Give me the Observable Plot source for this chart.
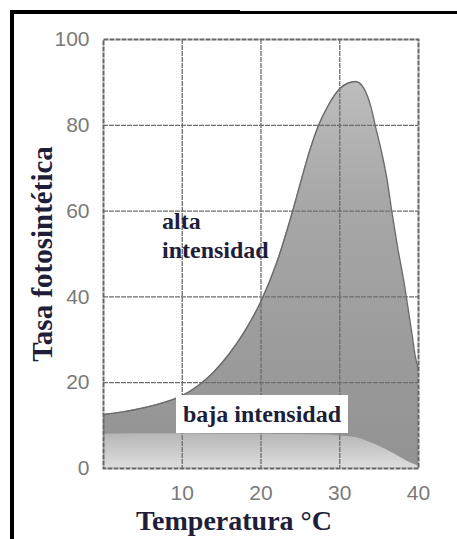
<!DOCTYPE html>
<html>
<head>
<meta charset="utf-8">
<script src="https://cdn.jsdelivr.net/npm/d3@7"></script>
<script src="https://cdn.jsdelivr.net/npm/@observablehq/plot@0.6"></script>
<style>
  html, body { margin: 0; padding: 0; background: #fff; }
  #wrap { position: relative; width: 457px; height: 539px; overflow: hidden; }
  #wrap svg { position: absolute; left: 0; top: 0; }
  .bl { position: absolute; background: #000; }
</style>
</head>
<body>
<div id="wrap">
  <div class="bl" style="left:10px;top:10px;width:4px;height:529px;"></div>
  <div class="bl" style="left:10px;top:10px;width:230px;height:4px;"></div>
  <div class="bl" style="left:240px;top:11px;width:217px;height:3px;"></div>
</div>
<script>
// Temperature (°C) and photosynthetic rate for high light intensity
const tempsAlta = [0, 2.5, 5, 7.5, 10, 12, 14, 16, 18, 20, 22, 23.7, 25, 26, 27.2, 28.5, 30, 31, 32, 33, 34, 34.5, 35.4, 36, 36.6, 37.3, 38.1, 38.7, 39.2, 39.6, 40];
const tasaAlta  = [12.6, 13.2, 14.1, 15.3, 17, 19.3, 22.5, 26.8, 32.2, 39, 48, 58, 66.5, 73, 79.5, 84.5, 88.5, 89.8, 90.2, 88.8, 84, 80, 73, 67.4, 60, 52, 44, 37, 31, 26, 23];
// Low light intensity
const tempsBaja = [0, 5, 10, 15, 20, 25, 28, 30, 32, 34, 36, 38, 39, 40];
const tasaBaja  = [8, 8.1, 8.1, 8, 8, 7.9, 7.8, 7.6, 7.2, 6, 4.3, 2.3, 1.3, 0.6];

const xTicks = [10, 20, 30, 40];
const yTicks = [0, 20, 40, 60, 80, 100];
const xGrid = [10, 20, 30];
const yGrid = [20, 40, 60, 80];

const labelX = "Temperatura °C";
const labelY = "Tasa fotosintética";
const labelAlta = ["alta", "intensidad"];
const labelBaja = "baja intensidad";

const alta = tempsAlta.map((t, i) => ({t, v: tasaAlta[i]}));
const baja = tempsBaja.map((t, i) => ({t, v: tasaBaja[i]}));

const tickFont = "'Liberation Sans Narrow', 'Arial Narrow', 'Liberation Sans', sans-serif";

const plot = Plot.plot({
  width: 457,
  height: 539,
  marginLeft: 103,
  marginRight: 39,
  marginTop: 39,
  marginBottom: 71,
  style: {fontFamily: tickFont, fontSize: "21px", color: "#7a7a7a", background: "transparent"},
  x: {domain: [0, 40], ticks: xTicks, tickSize: 0, tickPadding: 17, label: null},
  y: {domain: [0, 100], ticks: yTicks, tickSize: 0, tickPadding: 14, label: null},
  marks: [
    Plot.areaY(alta, {x: "t", y: "v", curve: "monotone-x", fill: "url(#gHigh)"}),
    Plot.areaY(baja, {x: "t", y: "v", curve: "monotone-x", fill: "url(#gLow)"}),
    Plot.lineY(alta, {x: "t", y: "v", curve: "monotone-x", stroke: "#6a6a6a", strokeWidth: 1.4}),
    Plot.gridX(xGrid, {stroke: "#6e6e6e", strokeOpacity: 1, strokeWidth: 1.3, strokeDasharray: "5,1"}),
    Plot.gridY(yGrid, {stroke: "#6e6e6e", strokeOpacity: 1, strokeWidth: 1.3, strokeDasharray: "5,1"}),
    Plot.frame({stroke: "#666", strokeWidth: 2, strokeDasharray: "5,1"})
  ]
});

const svg = d3.select(plot);
svg.insert("defs", ":first-child").html(`
  <linearGradient id="gHigh" x1="0" y1="0" x2="0" y2="1">
    <stop offset="0" stop-color="#bdbdbd"/>
    <stop offset="0.3" stop-color="#a8a8a8"/>
    <stop offset="1" stop-color="#929292"/>
  </linearGradient>
  <linearGradient id="gLow" x1="0" y1="0" x2="0" y2="1">
    <stop offset="0" stop-color="#b6b6b6"/>
    <stop offset="1" stop-color="#dedede"/>
  </linearGradient>
`);

const serif = "'Liberation Serif', 'Times New Roman', 'DejaVu Serif', serif";
const ink = "#1e1e3a";
const ann = svg.append("g").attr("font-family", serif).attr("font-weight", "bold").attr("fill", ink);

// alta intensidad
ann.append("text").attr("x", 162).attr("y", 229).attr("font-size", 24).attr("text-anchor", "start").text(labelAlta[0]);
ann.append("text").attr("x", 162).attr("y", 258).attr("font-size", 24).attr("text-anchor", "start").text(labelAlta[1]);

// baja intensidad box
ann.append("rect").attr("x", 176).attr("y", 395).attr("width", 172).attr("height", 38).attr("fill", "#fff");
ann.append("text").attr("x", 262).attr("y", 422).attr("font-size", 24).attr("text-anchor", "middle").text(labelBaja);

// axis titles
ann.append("text").attr("x", 234).attr("y", 530).attr("font-size", 28).attr("text-anchor", "middle").text(labelX);
ann.append("text").attr("transform", "translate(52,254) rotate(-90)").attr("font-size", 29).attr("text-anchor", "middle").text(labelY);

document.getElementById("wrap").appendChild(plot);
</script>
</body>
</html>
